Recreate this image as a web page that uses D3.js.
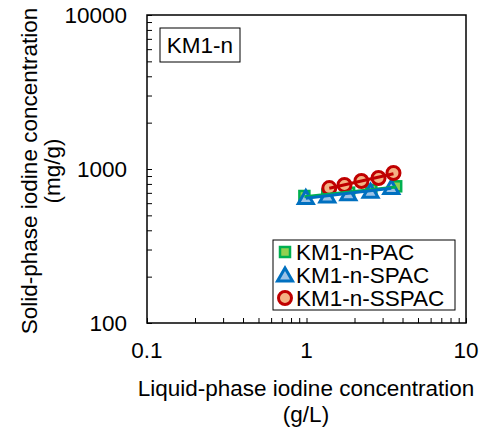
<!DOCTYPE html>
<html>
<head>
<meta charset="utf-8">
<script src="https://cdn.jsdelivr.net/npm/d3@7"></script>
<style>
  html, body { margin: 0; padding: 0; background: #fff; }
  svg { display: block; font-family: Arial, "Liberation Sans", sans-serif; }
</style>
</head>
<body>
<svg id="chart" width="479" height="433"></svg>
<script>
// Iodine adsorption isotherms, sample KM1-n
const seriesNames = ["KM1-n-PAC", "KM1-n-SPAC", "KM1-n-SSPAC"];
const pacX   = [0.97, 1.35, 1.85, 2.55, 3.65];
const pacY   = [668, 682, 702, 732, 772];
const spacX  = [0.99, 1.35, 1.83, 2.52, 3.40];
const spacY  = [652, 668, 690, 718, 758];
const sspacX = [1.39, 1.73, 2.21, 2.83, 3.51];
const sspacY = [752, 788, 836, 874, 942];
const xTicks = [0.1, 1, 10];
const yTicks = [100, 1000, 10000];
const panelLabel = "KM1-n";

const series = [
  { name: seriesNames[0], x: pacX,   y: pacY,   shape: "square",   fill: "#92D050", stroke: "#00B050", line: "#00B050" },
  { name: seriesNames[1], x: spacX,  y: spacY,  shape: "triangle", fill: "#9DC3E6", stroke: "#0070C0", line: "#0070C0" },
  { name: seriesNames[2], x: sspacX, y: sspacY, shape: "circle",   fill: "#F4B183", stroke: "#C00000", line: "#C00000" }
];

const svg = d3.select("#chart");
const m = { left: 147, right: 466, top: 15, bottom: 323 };

const x = d3.scaleLog().domain([0.1, 10]).range([m.left, m.right]);
const y = d3.scaleLog().domain([100, 10000]).range([m.bottom, m.top]);

const fontSize = 22.5;

// minor + major ticks, pointing into the plot
const minorX = [];
for (let d = 0.1; d < 10; d *= 10) for (let k = 1; k <= 10; k++) minorX.push(+(d * k).toPrecision(3));
const minorY = [];
for (let d = 100; d < 10000; d *= 10) for (let k = 1; k <= 10; k++) minorY.push(d * k);

const xAxis = svg.append("g").attr("transform", `translate(0,${m.bottom})`)
  .call(d3.axisBottom(x).tickValues([...new Set(minorX)]).tickSizeInner(-5).tickSizeOuter(0).tickFormat(""));
const yAxis = svg.append("g").attr("transform", `translate(${m.left},0)`)
  .call(d3.axisLeft(y).tickValues([...new Set(minorY)]).tickSizeInner(-5).tickSizeOuter(0).tickFormat(""));
[xAxis, yAxis].forEach(g => {
  g.select(".domain").remove();
  g.selectAll(".tick line").attr("stroke", "#000").attr("stroke-width", 1);
});

// frame of the plot area
svg.append("rect")
  .attr("x", m.left).attr("y", m.top)
  .attr("width", m.right - m.left).attr("height", m.bottom - m.top)
  .attr("fill", "none").attr("stroke", "#000").attr("stroke-width", 1.5);

// tick labels
svg.append("g").selectAll("text").data(xTicks).join("text")
  .attr("x", d => x(d)).attr("y", m.bottom + 35)
  .attr("text-anchor", "middle").attr("font-size", fontSize)
  .text(d => d3.format("~g")(d));
svg.append("g").selectAll("text").data(yTicks).join("text")
  .attr("x", m.left - 20).attr("y", d => y(d)).attr("dy", "0.35em")
  .attr("text-anchor", "end").attr("font-size", fontSize)
  .text(d => d);

// axis titles
const xt = svg.append("text").attr("text-anchor", "middle").attr("font-size", fontSize);
xt.append("tspan").attr("x", 306).attr("y", 396).text("Liquid-phase iodine concentration");
xt.append("tspan").attr("x", 306).attr("y", 422).text("(g/L)");
const yt = svg.append("text").attr("text-anchor", "middle").attr("font-size", fontSize)
  .attr("transform", "translate(0,171) rotate(-90)");
yt.append("tspan").attr("x", 0).attr("y", 37).text("Solid-phase iodine concentration");
yt.append("tspan").attr("x", 0).attr("y", 60).text("(mg/g)");

// panel label
svg.append("rect").attr("x", 160).attr("y", 28).attr("width", 80).attr("height", 34)
  .attr("fill", "#fff").attr("stroke", "#000").attr("stroke-width", 1);
svg.append("text").attr("x", 200).attr("y", 45).attr("dy", "0.35em")
  .attr("text-anchor", "middle").attr("font-size", fontSize).text(panelLabel);

// marker symbols
function drawMarker(g, shape, cx, cy, fill, stroke) {
  if (shape === "square") {
    g.append("rect").attr("x", cx - 5).attr("y", cy - 5).attr("width", 10).attr("height", 10)
      .attr("fill", fill).attr("stroke", stroke).attr("stroke-width", 2.5);
  } else if (shape === "triangle") {
    const h = 12, w = 15;
    g.append("path")
      .attr("d", `M${cx},${cy - h / 2 - 1}L${cx + w / 2},${cy + h / 2}L${cx - w / 2},${cy + h / 2}Z`)
      .attr("fill", fill).attr("stroke", stroke).attr("stroke-width", 3).attr("stroke-linejoin", "miter");
  } else {
    g.append("circle").attr("cx", cx).attr("cy", cy).attr("r", 6.5)
      .attr("fill", fill).attr("stroke", stroke).attr("stroke-width", 3);
  }
}

const plot = svg.append("g");
series.forEach(s => {
  s.x.forEach((xv, i) => drawMarker(plot, s.shape, x(xv), y(s.y[i]), s.fill, s.stroke));
});

// power-law trend lines (least squares in log-log space)
series.forEach(s => {
  const lx = s.x.map(Math.log10), ly = s.y.map(Math.log10);
  const mx = d3.mean(lx), my = d3.mean(ly);
  const b = d3.sum(lx, (v, i) => (v - mx) * (ly[i] - my)) / d3.sum(lx, v => (v - mx) ** 2);
  const a = my - b * mx;
  const ends = d3.extent(s.x);
  const pts = ends.map(v => [x(v), y(Math.pow(10, a + b * Math.log10(v)))]);
  plot.append("path").attr("d", d3.line()(pts))
    .attr("stroke", s.line).attr("stroke-width", 3).attr("fill", "none");
});

// legend
const lg = svg.append("g");
lg.append("rect").attr("x", 273).attr("y", 240).attr("width", 182).attr("height", 70)
  .attr("fill", "#fff").attr("stroke", "#000").attr("stroke-width", 1);
series.forEach((s, i) => {
  const cy = 252 + i * 23;
  drawMarker(lg, s.shape, 285, cy, s.fill, s.stroke);
  lg.append("text").attr("x", 296).attr("y", cy).attr("dy", "0.35em")
    .attr("font-size", fontSize).text(s.name);
});
</script>
</body>
</html>
